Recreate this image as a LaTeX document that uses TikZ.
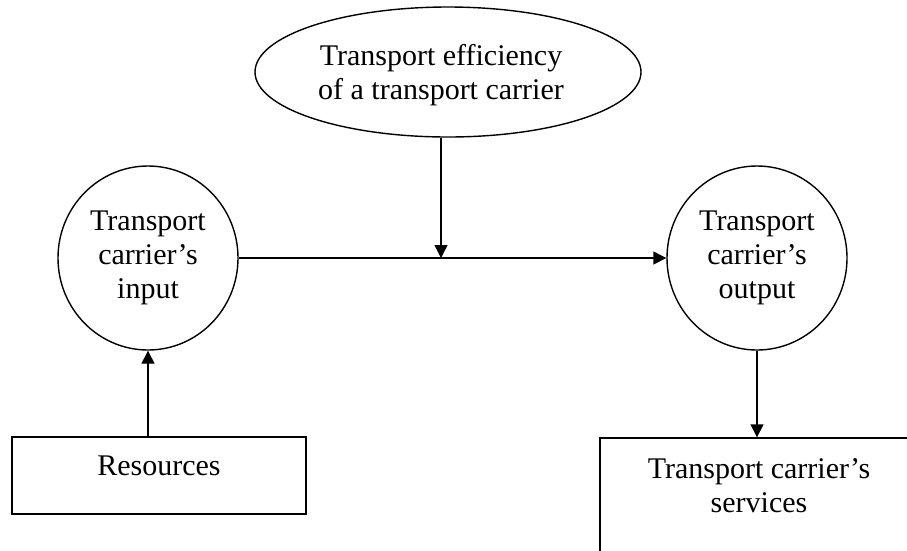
\documentclass[tikz,border=0pt]{standalone}
\usepackage{fontspec}
\setmainfont{Liberation Serif}
\usetikzlibrary{shapes.geometric,arrows.meta,positioning}

\begin{document}
\begin{tikzpicture}[x=1pt,y=-1pt]
\tikzstyle{txt}=[align=center, font=\fontsize{30}{34}\selectfont, inner sep=0pt]
\tikzstyle{oval}=[ellipse, draw=black, line width=1.4pt]
\tikzstyle{connect}=[-{Triangle[length=13pt,width=13pt]}, line width=1.4pt]
\tikzstyle{box}=[rectangle, draw=black, line width=1.4pt]
  \useasboundingbox (0,0) rectangle (907,550);
  \clip (0,0) rectangle (907,550);
  \node[oval, minimum width=386pt, minimum height=130pt] (eff) at (448,72) {};
  \node[txt] (efftext) at (441,75) {Transport efficiency\\of a transport carrier};
  \node[oval, txt, minimum width=180pt, minimum height=184pt] (input) at (148,258) {Transport\\carrier’s\\input};
  \node[oval, txt, minimum width=180pt, minimum height=184pt] (output) at (757,258) {Transport\\carrier’s\\output};
  \node[box, minimum width=294pt, minimum height=77pt] (res) at (159,475.5) {};
  \node[txt] (restext) at ([yshift=-30pt]res.north) {Resources};
  \node[box, minimum width=318pt, minimum height=142pt] (services) at (759,509) {};
  \node[txt] (servtext) at ([yshift=-48pt]services.north) {Transport carrier’s\\services};
  \coordinate (junc) at (441,258);
  \path (input) edge [connect] (output)
        (junc |- eff.south) edge [connect] (junc)
        (input |- res.north) edge [connect] (input)
        (output) edge [connect] (output |- services.north);
\end{tikzpicture}
\end{document}
